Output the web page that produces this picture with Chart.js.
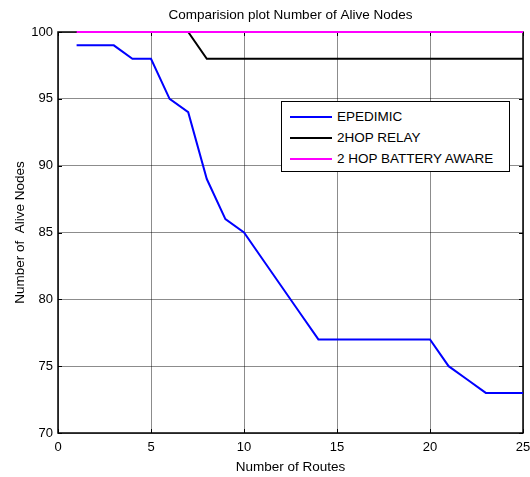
<!DOCTYPE html>
<html>
<head>
<meta charset="utf-8">
<script src="https://cdn.jsdelivr.net/npm/chart.js@4.4.1/dist/chart.umd.min.js"></script>
<style>
  html, body { margin: 0; padding: 0; background: #fff; }
  #wrap { position: relative; width: 530px; height: 477px; }
  #legend {
    position: absolute; left: 281px; top: 101px; width: 227px; height: 69px;
    border: 1px solid #000; background: #fff;
    font-family: 'Liberation Sans', Arial, sans-serif; font-size: 13.5px; color: #000;
  }
  .row { position: absolute; left: 0; height: 21px; line-height: 21px; white-space: nowrap; }
  .sw { position: absolute; left: 8px; top: 10px; width: 42px; height: 2px; }
  .lbl { position: absolute; left: 55px; top: 0; }
</style>
</head>
<body>
<div id="wrap">
  <canvas id="c" width="530" height="477"></canvas>
  <div id="legend"></div>
</div>
<script>
const titleText = 'Comparision plot Number of Alive Nodes';
const xTitle = 'Number of Routes';
const yTitle = 'Number of  Alive Nodes';
const seriesNames = ['EPEDIMIC', '2HOP RELAY', '2 HOP BATTERY AWARE'];
const seriesColors = ['#0000ff', '#000000', '#ff00ff'];

const routes = [1,2,3,4,5,6,7,8,9,10,11,12,13,14,15,16,17,18,19,20,21,22,23,24,25];
const epidemic = [99,99,99,98,98,95,94,89,86,85,83,81,79,77,77,77,77,77,77,77,75,74,73,73,73];
const twoHopRelay = [100,100,100,100,100,100,100,98,98,98,98,98,98,98,98,98,98,98,98,98,98,98,98,98,98];
const twoHopBattery = [100,100,100,100,100,100,100,100,100,100,100,100,100,100,100,100,100,100,100,100,100,100,100,100,100];

const xTicks = [0,5,10,15,20,25];
const yTicks = [70,75,80,85,90,95,100];

const FONT = "'Liberation Sans', Arial, sans-serif";
const allSeries = [epidemic, twoHopRelay, twoHopBattery];
const orders = [2, 1, 0];

const datasets = allSeries.map((vals, i) => ({
  label: seriesNames[i],
  data: routes.map((x, j) => ({ x: x, y: vals[j] })),
  borderColor: seriesColors[i],
  backgroundColor: seriesColors[i],
  borderWidth: 2,
  pointRadius: 0,
  tension: 0,
  fill: false,
  clip: 3,
  order: orders[i]
}));

const boxPlugin = {
  id: 'box',
  beforeDatasetsDraw(chart) {
    const a = chart.chartArea;
    const ctx = chart.ctx;
    ctx.save();
    ctx.strokeStyle = '#000';
    ctx.lineWidth = 1.5;
    ctx.strokeRect(a.left, a.top, a.right - a.left, a.bottom - a.top);
    ctx.lineWidth = 1;
    const xs = chart.scales.x, ys = chart.scales.y;
    xTicks.forEach(v => {
      const px = Math.round(xs.getPixelForValue(v)) + 0.5;
      ctx.beginPath(); ctx.moveTo(px, a.bottom); ctx.lineTo(px, a.bottom - 4); ctx.stroke();
      ctx.beginPath(); ctx.moveTo(px, a.top); ctx.lineTo(px, a.top + 4); ctx.stroke();
    });
    yTicks.forEach(v => {
      const py = Math.round(ys.getPixelForValue(v)) + 0.5;
      ctx.beginPath(); ctx.moveTo(a.left, py); ctx.lineTo(a.left + 4, py); ctx.stroke();
      ctx.beginPath(); ctx.moveTo(a.right, py); ctx.lineTo(a.right - 4, py); ctx.stroke();
    });
    ctx.restore();
  }
};

new Chart(document.getElementById('c'), {
  type: 'line',
  data: { datasets },
  plugins: [boxPlugin],
  options: {
    responsive: false,
    animation: false,
    devicePixelRatio: 1,
    layout: { padding: { left: 0, right: 7, top: 0, bottom: 0 } },
    plugins: {
      legend: { display: false },
      tooltip: { enabled: false },
      title: {
        display: true,
        text: titleText,
        fullSize: false,
        color: '#000',
        font: { family: FONT, size: 13.5, weight: 'normal' },
        padding: { top: 7, bottom: 8.8 }
      }
    },
    scales: {
      x: {
        type: 'linear',
        min: 0, max: 25,
        afterFit(s) { s.height = 44; s.paddingLeft = 0; s.paddingRight = 0; },
        afterBuildTicks(s) { s.ticks = xTicks.map(v => ({ value: v })); },
        ticks: { color: '#000', font: { family: FONT, size: 13 }, padding: 7, maxRotation: 0, autoSkip: false },
        grid: { color: 'rgba(0,0,0,0.45)', lineWidth: 1, drawTicks: false },
        border: { display: false },
        title: { display: true, text: xTitle, color: '#000', font: { family: FONT, size: 13.5 }, padding: { top: 0, bottom: 2 } }
      },
      y: {
        type: 'linear',
        min: 70, max: 100,
        afterFit(s) { s.width = 58; s.paddingTop = 0; s.paddingBottom = 0; },
        afterBuildTicks(s) { s.ticks = yTicks.map(v => ({ value: v })); },
        ticks: { color: '#000', font: { family: FONT, size: 13 }, padding: 5, autoSkip: false },
        grid: { color: 'rgba(0,0,0,0.45)', lineWidth: 1, drawTicks: false },
        border: { display: false },
        title: { display: true, text: yTitle, color: '#000', font: { family: FONT, size: 13.5 }, padding: { top: 12, bottom: 0 } }
      }
    }
  }
});

const legend = document.getElementById('legend');
seriesNames.forEach((name, i) => {
  const row = document.createElement('div');
  row.className = 'row';
  row.style.top = (4 + i * 21) + 'px';
  row.innerHTML = '<div class="sw" style="background:' + seriesColors[i] + '"></div><span class="lbl"></span>';
  row.querySelector('.lbl').textContent = name;
  legend.appendChild(row);
});
</script>
</body>
</html>
